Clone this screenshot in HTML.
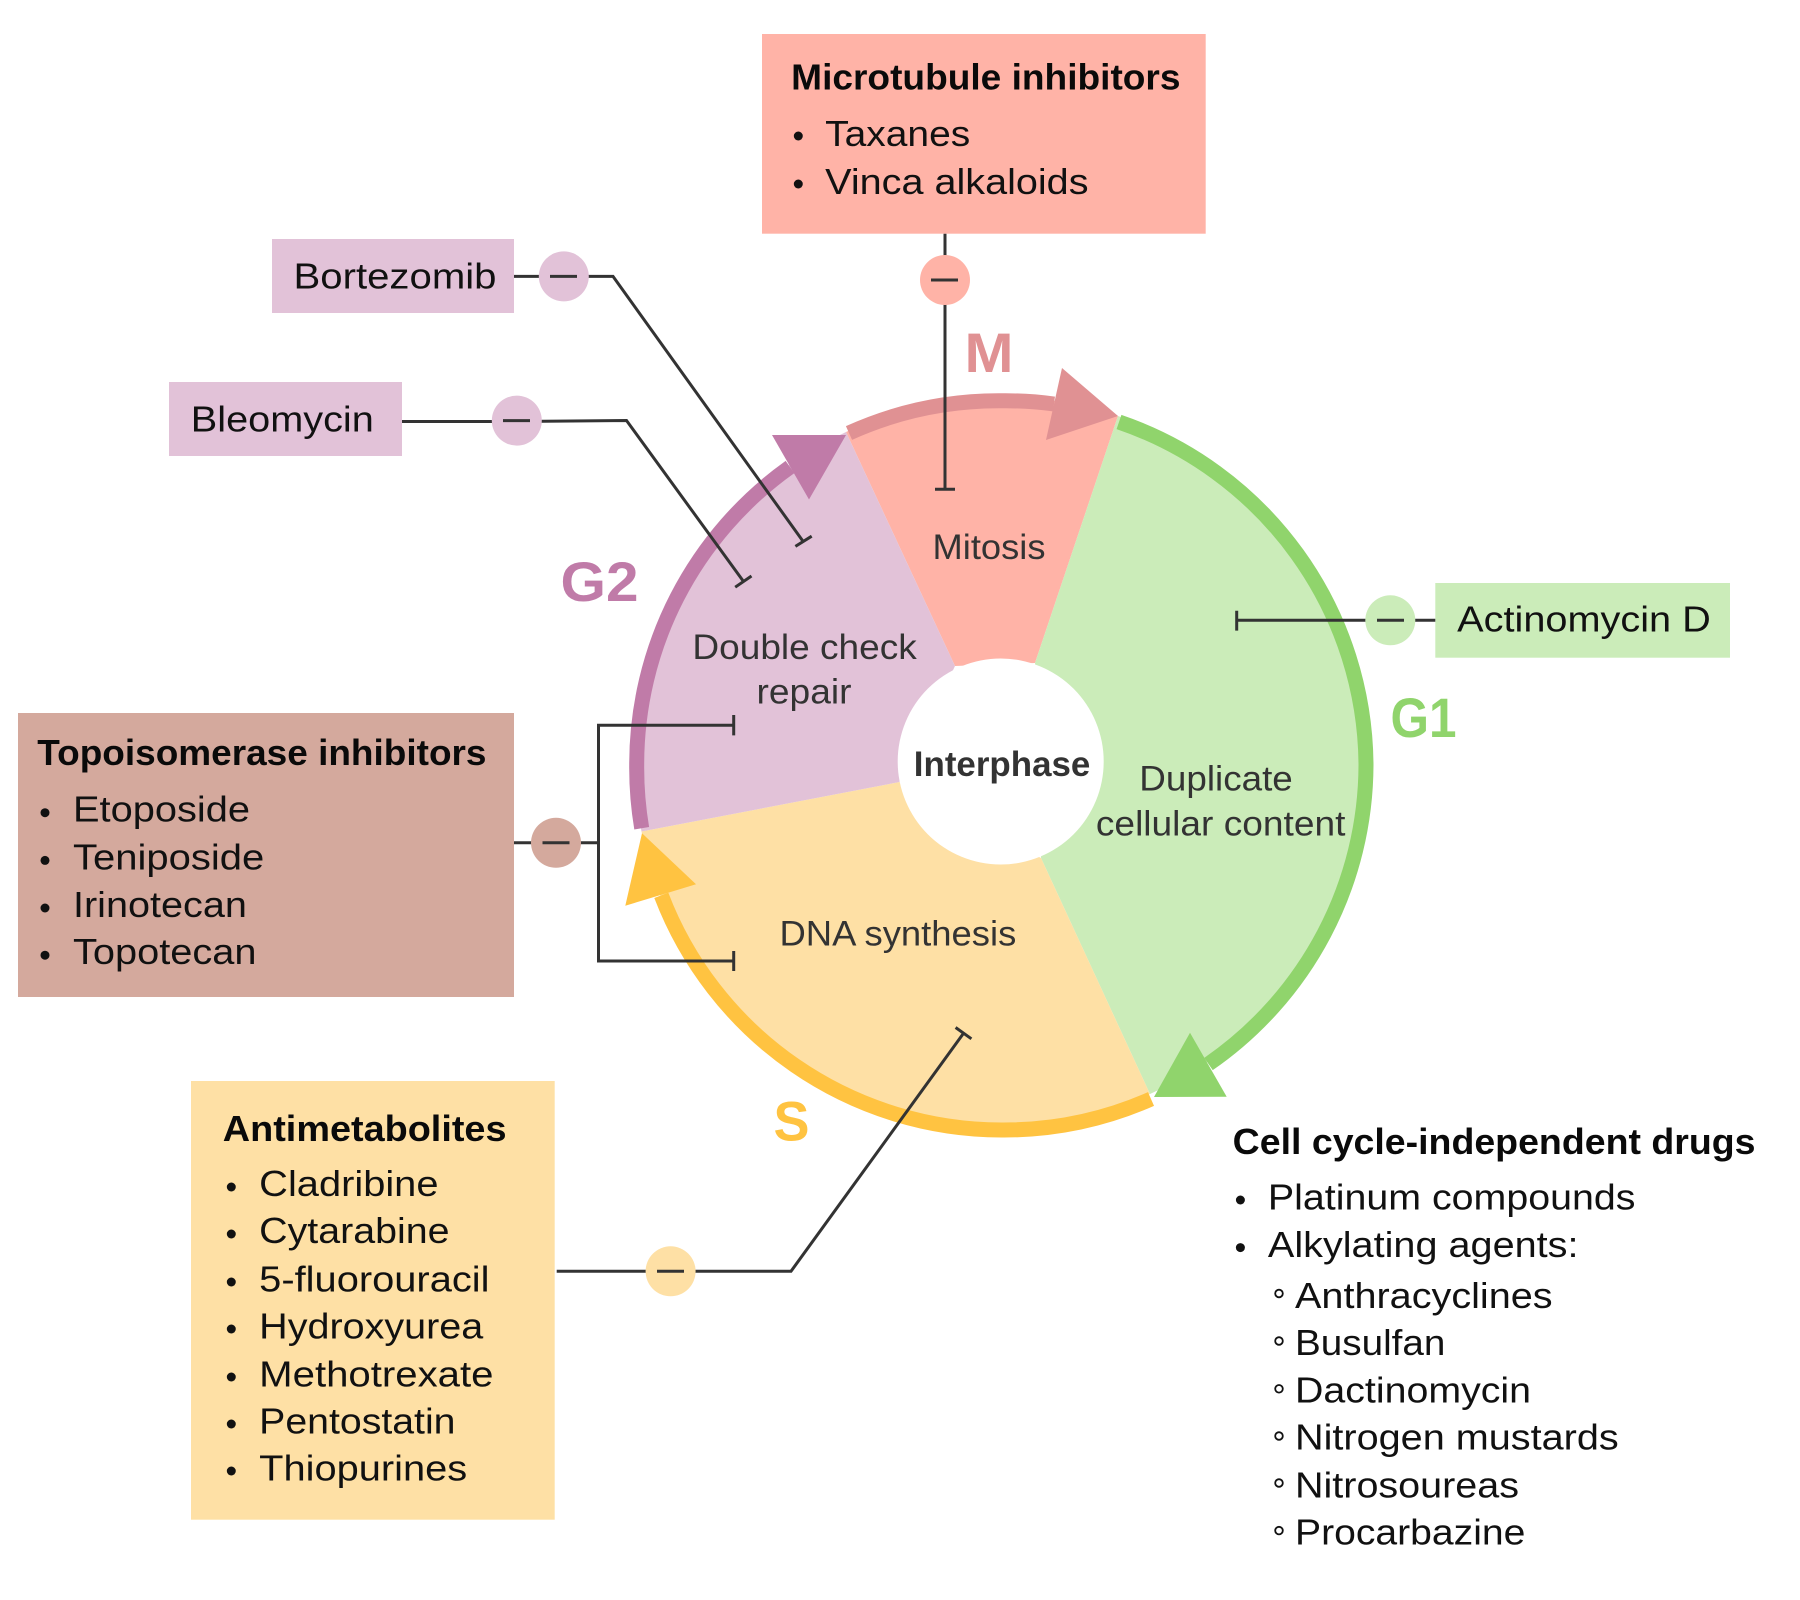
<!DOCTYPE html>
<html>
<head>
<meta charset="utf-8">
<title>Cell cycle drugs</title>
<style>
html,body{margin:0;padding:0;background:#fff;width:1800px;height:1600px;overflow:hidden}
svg{display:block}
text{font-family:"Liberation Sans",sans-serif;}
.t{font-size:36px;fill:#111}
.h{font-size:36px;font-weight:bold;fill:#0a0a0a}
.w{font-size:35px;fill:#333}
.p{font-size:56px;font-weight:bold}
.l{fill:none;stroke:#333;stroke-width:3}
</style>
</head>
<body>
<svg xmlns="http://www.w3.org/2000/svg" width="1800" height="1600" viewBox="0 0 1800 1600">
<rect width="1800" height="1600" fill="#fff"/>

<!-- wedges -->
<path d="M846 432 A365 365 0 0 1 1118 416 L1035 663 L955 666 Z" fill="#FFB3A7"/>
<path d="M1118 416 A365 365 0 0 1 1150 1094 L1041 858 L1035 663 Z" fill="#CBECB9"/>
<path d="M1150 1094 A365 365 0 0 1 641.5 831.5 L899.5 782 L1041 858 Z" fill="#FEE0A5"/>
<path d="M641.5 831.5 A365 365 0 0 1 846 432 L955 666 L899.5 782 Z" fill="#E2C2D8"/>
<circle cx="1000.7" cy="761.5" r="103" fill="#fff"/>

<!-- ring arcs -->
<path d="M849 433 A364.7 364.7 0 0 1 1001.4 400.8 A364.7 364.7 0 0 1 1054 404" fill="none" stroke="#E09193" stroke-width="15"/>
<polygon points="1118,416 1062,368 1046,440" fill="#E09193"/>
<path d="M1119 422 A364.7 364.7 0 0 1 1366 765 A364.7 364.7 0 0 1 1208.5 1064" fill="none" stroke="#90D46C" stroke-width="15"/>
<polygon points="1154,1097 1190,1032.7 1226.7,1096.7" fill="#90D46C"/>
<path d="M1151 1099 A364.7 364.7 0 0 1 1001.4 1130 A364.7 364.7 0 0 1 661.3 895.3" fill="none" stroke="#FFC341" stroke-width="15"/>
<polygon points="642,833.3 696,884.3 625.3,905.7" fill="#FFC341"/>
<path d="M641.7 828.2 A364.7 364.7 0 0 1 636.7 765 A364.7 364.7 0 0 1 790 467" fill="none" stroke="#C07BA8" stroke-width="15"/>
<polygon points="846,435 772,435 809,499.5" fill="#C07BA8"/>

<!-- boxes -->
<rect x="762" y="34" width="443.7" height="199.7" fill="#FFB3A7"/>
<rect x="272" y="239" width="242" height="74" fill="#E2C2D8"/>
<rect x="169" y="382" width="233" height="74" fill="#E2C2D8"/>
<rect x="18" y="713" width="496" height="284" fill="#D4A99D"/>
<rect x="191" y="1081" width="363.7" height="438.7" fill="#FEE0A5"/>
<rect x="1435.3" y="583" width="294.7" height="74.7" fill="#CBECB9"/>

<!-- connectors -->
<path class="l" d="M945 233.7 V489.3 M935 489.3 H955"/>
<path class="l" d="M514 276.4 H613 L803 541.3 M795.4 546.4 L811.7 536.2"/>
<path class="l" d="M402 421.5 H516.8 L626.5 420.5 L743.9 582 M735.2 587.2 L751.5 576"/>
<path class="l" d="M514 842.8 H598.5 M733.7 725.2 H598.5 V961 H733.7 M733.7 715 V735.4 M733.7 951 V971"/>
<path class="l" d="M556.7 1271.3 H791 L963 1034 M955.6 1027.5 L971.4 1038.8"/>
<path class="l" d="M1435.3 620.3 H1236.7 M1236.7 610.7 V630.6"/>

<!-- inhibitor circles -->
<circle cx="945" cy="280" r="25" fill="#FFB3A7"/><path class="l" d="M931 280 H958"/>
<circle cx="563.8" cy="276.4" r="25" fill="#E2C2D8"/><path class="l" d="M550 276.4 H577"/>
<circle cx="516.8" cy="420.6" r="25" fill="#E2C2D8"/><path class="l" d="M503 420.6 H530"/>
<circle cx="556" cy="842.8" r="25" fill="#D4A99D"/><path class="l" d="M542.5 842.8 H569.5"/>
<circle cx="670.6" cy="1271.3" r="25" fill="#FEE0A5"/><path class="l" d="M657 1271.3 H684"/>
<circle cx="1390.3" cy="620.3" r="25" fill="#CBECB9"/><path class="l" d="M1377 620.3 H1404"/>

<!-- phase labels -->
<text class="p" x="964.5" y="372" fill="#E09193" textLength="49" lengthAdjust="spacingAndGlyphs">M</text>
<text class="p" x="560.5" y="601" fill="#C07BA8" textLength="78" lengthAdjust="spacingAndGlyphs">G2</text>
<text class="p" x="1390.5" y="737" fill="#90D46C" textLength="66" lengthAdjust="spacingAndGlyphs">G1</text>
<text class="p" x="773.5" y="1140.5" fill="#FFC341" textLength="36" lengthAdjust="spacingAndGlyphs">S</text>

<!-- wedge labels -->
<text class="w" x="932.5" y="559.2" textLength="113" lengthAdjust="spacingAndGlyphs">Mitosis</text>
<text class="w" x="692.4" y="659.2" textLength="224.4" lengthAdjust="spacingAndGlyphs">Double check</text>
<text class="w" x="756.5" y="703.6" textLength="95" lengthAdjust="spacingAndGlyphs">repair</text>
<text class="w" x="913.8" y="776" style="font-weight:bold" textLength="176.5" lengthAdjust="spacingAndGlyphs">Interphase</text>
<text class="w" x="1139.3" y="790.3" textLength="153.5" lengthAdjust="spacingAndGlyphs">Duplicate</text>
<text class="w" x="1095.9" y="835.7" textLength="249.5" lengthAdjust="spacingAndGlyphs">cellular content</text>
<text class="w" x="779.5" y="945.4" textLength="236.8" lengthAdjust="spacingAndGlyphs">DNA synthesis</text>

<!-- Microtubule -->
<text class="h" x="791.2" y="89.3" textLength="389.3" lengthAdjust="spacingAndGlyphs">Microtubule inhibitors</text>
<circle cx="798.3" cy="136" r="4.5" fill="#111"/><text class="t" x="825.2" y="146" textLength="145" lengthAdjust="spacingAndGlyphs">Taxanes</text>
<circle cx="798.3" cy="184" r="4.5" fill="#111"/><text class="t" x="825.2" y="194" textLength="263.3" lengthAdjust="spacingAndGlyphs">Vinca alkaloids</text>

<!-- small boxes -->
<text class="t" x="293.5" y="288.3" textLength="203" lengthAdjust="spacingAndGlyphs">Bortezomib</text>
<text class="t" x="190.8" y="431.4" textLength="183" lengthAdjust="spacingAndGlyphs">Bleomycin</text>
<text class="t" x="1457.2" y="631.7" textLength="253.6" lengthAdjust="spacingAndGlyphs">Actinomycin D</text>

<!-- Topoisomerase -->
<text class="h" x="37.3" y="764.8" textLength="449.2" lengthAdjust="spacingAndGlyphs">Topoisomerase inhibitors</text>
<circle cx="45" cy="812.7" r="4.5" fill="#111"/><text class="t" x="73" y="821.7" textLength="177" lengthAdjust="spacingAndGlyphs">Etoposide</text>
<circle cx="45" cy="860.4" r="4.5" fill="#111"/><text class="t" x="73" y="869.4" textLength="191.3" lengthAdjust="spacingAndGlyphs">Teniposide</text>
<circle cx="45" cy="908" r="4.5" fill="#111"/><text class="t" x="73" y="917" textLength="173.9" lengthAdjust="spacingAndGlyphs">Irinotecan</text>
<circle cx="45" cy="955.2" r="4.5" fill="#111"/><text class="t" x="73" y="964.2" textLength="183.5" lengthAdjust="spacingAndGlyphs">Topotecan</text>

<!-- Antimetabolites -->
<text class="h" x="222.8" y="1141" textLength="283.7" lengthAdjust="spacingAndGlyphs">Antimetabolites</text>
<circle cx="231.3" cy="1187" r="4.5" fill="#111"/><text class="t" x="259.2" y="1196" textLength="179.3" lengthAdjust="spacingAndGlyphs">Cladribine</text>
<circle cx="231.3" cy="1234" r="4.5" fill="#111"/><text class="t" x="259.2" y="1243" textLength="190.3" lengthAdjust="spacingAndGlyphs">Cytarabine</text>
<circle cx="231.3" cy="1282" r="4.5" fill="#111"/><text class="t" x="259.2" y="1291.7" textLength="230.3" lengthAdjust="spacingAndGlyphs">5-fluorouracil</text>
<circle cx="231.3" cy="1329" r="4.5" fill="#111"/><text class="t" x="259.2" y="1338.5" textLength="224" lengthAdjust="spacingAndGlyphs">Hydroxyurea</text>
<circle cx="231.3" cy="1377" r="4.5" fill="#111"/><text class="t" x="259.2" y="1386.5" textLength="234.3" lengthAdjust="spacingAndGlyphs">Methotrexate</text>
<circle cx="231.3" cy="1424" r="4.5" fill="#111"/><text class="t" x="259.2" y="1433.5" textLength="196.3" lengthAdjust="spacingAndGlyphs">Pentostatin</text>
<circle cx="231.3" cy="1471" r="4.5" fill="#111"/><text class="t" x="259.2" y="1480.5" textLength="208" lengthAdjust="spacingAndGlyphs">Thiopurines</text>

<!-- Independent -->
<text class="h" x="1232.7" y="1153.8" textLength="522.8" lengthAdjust="spacingAndGlyphs">Cell cycle-independent drugs</text>
<circle cx="1240.4" cy="1200" r="4.5" fill="#111"/><text class="t" x="1267.9" y="1209.7" textLength="367.6" lengthAdjust="spacingAndGlyphs">Platinum compounds</text>
<circle cx="1240.4" cy="1247.6" r="4.5" fill="#111"/><text class="t" x="1267.9" y="1257.2" textLength="310.6" lengthAdjust="spacingAndGlyphs">Alkylating agents:</text>
<g fill="none" stroke="#111" stroke-width="1.8">
<circle cx="1279" cy="1293.5" r="3.8"/><circle cx="1279" cy="1341" r="3.8"/><circle cx="1279" cy="1388.8" r="3.8"/><circle cx="1279" cy="1436" r="3.8"/><circle cx="1279" cy="1483" r="3.8"/><circle cx="1279" cy="1530.6" r="3.8"/>
</g>
<text class="t" x="1295" y="1308" textLength="257.6" lengthAdjust="spacingAndGlyphs">Anthracyclines</text>
<text class="t" x="1295" y="1354.8" textLength="150.4" lengthAdjust="spacingAndGlyphs">Busulfan</text>
<text class="t" x="1295" y="1402.6" textLength="236" lengthAdjust="spacingAndGlyphs">Dactinomycin</text>
<text class="t" x="1295" y="1449.7" textLength="323.7" lengthAdjust="spacingAndGlyphs">Nitrogen mustards</text>
<text class="t" x="1295" y="1497.5" textLength="224" lengthAdjust="spacingAndGlyphs">Nitrosoureas</text>
<text class="t" x="1295" y="1544.6" textLength="230.4" lengthAdjust="spacingAndGlyphs">Procarbazine</text>
</svg>
</body>
</html>
